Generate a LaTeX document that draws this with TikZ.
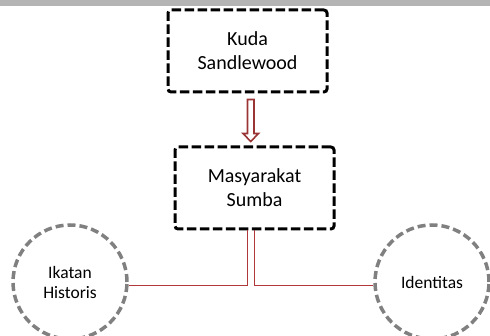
\documentclass[tikz,border=0pt]{standalone}
\usepackage{fontspec}
\setmainfont{Carlito}
\usetikzlibrary{calc}
\definecolor{bandgray}{HTML}{B4B4B4}
\definecolor{circgray}{HTML}{808080}
\definecolor{darkred}{HTML}{9B3535}
\definecolor{linered}{HTML}{B03838}
\tikzset{
  dbox/.style={draw=black, line width=3pt, dash pattern=on 9.5pt off 3.5pt,
    rounded corners=3pt, minimum width=159pt, minimum height=82pt,
    align=center, font=\fontsize{20}{24}\selectfont, inner sep=0pt},
  dcirc/.style={circle, draw=circgray, line width=3.5pt, dash pattern=on 8pt off 4pt,
    minimum size=114pt, align=center, font=\fontsize{17.5}{20}\selectfont, inner sep=0pt},
  hollowarrow/.style={draw=darkred, line width=1.6pt, fill=white, line join=miter},
  link/.style={draw=linered, line width=1.5pt}
}
\begin{document}
\begin{tikzpicture}[x=1pt,y=-1pt]
\useasboundingbox (0,0) rectangle (490,336);
\fill[bandgray] (0,0) rectangle (490,6);
\node[dbox] (kuda) at (247.5,51) {Kuda\\Sandlewood};
\node[dbox] (masy) at (254.5,188) {Masyarakat\\Sumba};
\node[dcirc] (ikatan) at (70,282) {Ikatan\\Historis};
\node[dcirc] (ident) at (432,282) {Identitas};
% hollow block arrow
\coordinate (atop) at ($(kuda.south)+(3.25,6)$);
\coordinate (atip) at ($(masy.north)+(-3.75,-4)$);
\draw[hollowarrow] ($(atop)+(-3.25,0)$) -- ($(atop)+(3.25,0)$)
  -- ($(atip)+(3.25,-8)$) -- ($(atip)+(7.75,-8)$) -- (atip)
  -- ($(atip)+(-7.75,-8)$) -- ($(atip)+(-3.25,-8)$) -- cycle;
% links
\coordinate (jl) at ($(masy.south)+(-7,0)$);
\coordinate (jr) at ($(masy.south)+(0,0)$);
\draw[link] (jr) |- ($(ident.west)+(0,3.5)$);
\draw[link,color=linered] (jl) |- ($(ikatan.east)+(0,3.5)$);
\end{tikzpicture}
\end{document}
